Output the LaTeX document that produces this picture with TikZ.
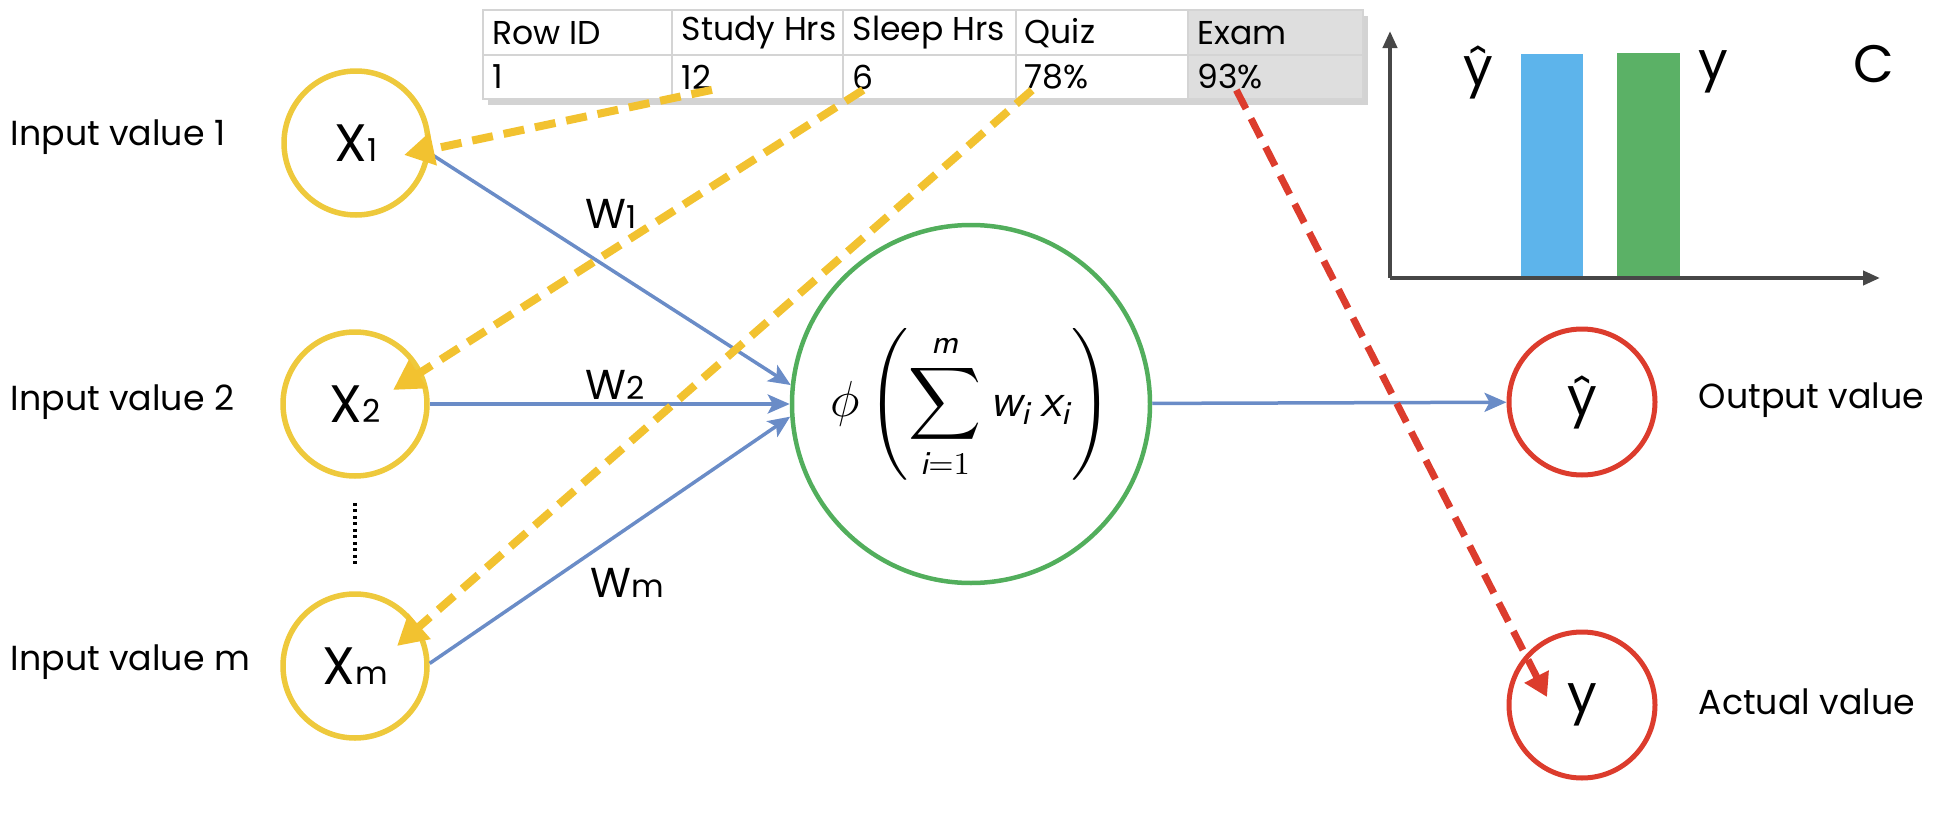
\documentclass[tikz,border=0pt]{standalone}
\usepackage{amsmath}
\usepackage{fontspec}
\setmainfont{Poppins}
\usetikzlibrary{arrows.meta,calc,shadows}

\definecolor{inYellow}{HTML}{EEC93C}
\definecolor{dashYellow}{HTML}{F2C230}
\definecolor{wBlue}{HTML}{6A8CC7}
\definecolor{sumGreen}{HTML}{52AE5C}
\definecolor{outRed}{HTML}{DC3C2D}
\definecolor{barBlue}{HTML}{5DB4EB}
\definecolor{barGreen}{HTML}{5BB166}
\definecolor{axisGrey}{HTML}{474747}
\definecolor{tabGrey}{HTML}{DEDEDE}
\definecolor{tabLine}{HTML}{D4D4D4}

% small index sitting on the baseline
\newcommand{\idx}[1]{{\fontsize{9}{9}\selectfont #1}}
\newcommand{\sfv}[1]{\text{\sffamily\itshape #1}}

\begin{document}
\begin{tikzpicture}[x=0.1mm,y=-0.1mm,
  every node/.style={font=\fontsize{9.4}{11}\selectfont},
  incircle/.style={circle,draw=inYellow,line width=0.55mm,minimum size=14.4mm,inner sep=0pt,font=\fontsize{15}{15}\selectfont},
  outcircle/.style={circle,draw=outRed,line width=0.5mm,minimum size=14.6mm,inner sep=0pt,font=\fontsize{15}{15}\selectfont},
  sumcircle/.style={circle,draw=sumGreen,line width=0.45mm,minimum size=35.8mm,inner sep=0pt},
  cell/.style={anchor=west,inner sep=0pt},
  side/.style={anchor=west,inner sep=0pt,font=\fontsize{9.9}{12}\selectfont},
  wline/.style={wBlue,line width=0.35mm,-{Stealth[length=2.2mm,width=1.9mm,inset=0.5mm]}},
  feed/.style={dashYellow,line width=0.8mm,dash pattern=on 2.1mm off 1.1mm,-{Triangle[length=3mm,width=3.2mm]}},
  check/.style={outRed,line width=0.7mm,dash pattern=on 2.1mm off 1.1mm,-{Triangle[length=2.3mm,width=2.6mm]}},
  axis/.style={axisGrey,line width=0.4mm,-{Triangle[length=1.7mm,width=1.4mm]}},
  wlabel/.style={font=\fontsize{11.9}{13}\selectfont},
  biglabel/.style={font=\fontsize{15}{15}\selectfont}]
\useasboundingbox (0,0) rectangle (1946,822);
%
% data row
\fill[white,drop shadow={shadow xshift=0.5mm,shadow yshift=-0.6mm,opacity=0.35}] (483,10) rectangle (1363,99);
\fill[tabGrey] (1188,10) rectangle (1363,99);
\draw[tabLine,line width=0.2mm] (483,10) rectangle (1363,99) (483,55) -- (1363,55)
  (672,10) -- (672,99) (843,10) -- (843,99) (1016,10) -- (1016,99) (1188,10) -- (1188,99);
\foreach \xx/\hh/\dd [count=\i] in {492/Row ID/1, 681/Study Hrs/12, 852/Sleep Hrs/6, 1024/Quiz/78\%, 1197/Exam/93\%}
  {\node[cell] (h\i) at (\xx,33) {\hh};
   \node[cell] (d\i) at (\xx,77) {\dd};}
%
% inputs
\node[incircle] (x1) at (356,143) {X\idx{1}};
\node[incircle] (x2) at (355,404) {X\idx{2}};
\node[incircle] (x3) at (355,666) {X\idx{m}};
\node[side] (l1) at (10,137) {Input value 1};
\node[side] (l2) at (10,402) {Input value 2};
\node[side] (l3) at (10,662) {Input value m};
\draw[line width=0.35mm,dash pattern=on 0.3mm off 0.35mm,shorten <=2.4mm,shorten >=2.5mm] (x2) -- (x3);
%
% neuron
\node[sumcircle] (sum) at (971,404)
  {\fontsize{13.5}{15}\selectfont$\displaystyle \phi\left(\sum_{\sfv{i}=1}^{\sfv{m}} \sfv{w}_{\sfv{i}}\,\sfv{x}_{\sfv{i}}\right)$};
\draw[wline] (x1.-8) -- (sum.174);
\draw[wline] (x2) -- (sum);
\draw[wline] (x3.2) -- (sum.184);
\node[wlabel] (w1) at (611,214) {W\idx{1}};
\node[wlabel] (w2) at (615,385) {W\idx{2}};
\node[wlabel] (w3) at (627,583) {W\idx{m}};
%
% outputs
\node[outcircle] (yhat) at (1582,402) {\^y};
\node[outcircle] (yact) at (1582,705) {y};
\node[side] (o1) at (1698,400) {Output value};
\node[side] (o2) at (1698,702) {Actual value};
\draw[wline] (sum) -- (yhat);
%
% rows fed into the inputs
\coordinate (t1) at ($(x1)+(48,12)$);
\coordinate (t2) at ($(x2)+(38,-14)$);
\coordinate (t3) at ($(x3)+(42,-20)$);
\coordinate (t4) at ($(yact)+(-35,-8)$);
\draw[feed] (d2.south east) -- (t1);
\draw[feed] (d3.south) -- (t2);
\draw[feed] ([xshift=0.8mm]d4.south west) -- (t3);
\draw[check] ([xshift=0.6mm]d5.south) -- (t4);
%
% cost chart
\coordinate (o) at (1390,278);
\fill[barBlue] (1521,54) rectangle (1583,277);
\fill[barGreen] (1617,53) rectangle (1680,277);
\draw[axis] (o) -- (1390,31);
\draw[axis] (o) -- (1880,278);
\node[biglabel] (c1) at (1478,72) {\^y};
\node[biglabel] (c2) at (1713,72) {y};
\node[biglabel] (c3) at (1874,64) {C};
\end{tikzpicture}
\end{document}
